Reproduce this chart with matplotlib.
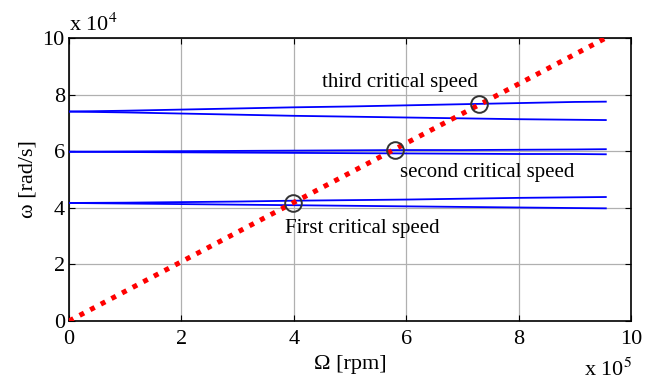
import numpy as np
import matplotlib
matplotlib.use("Agg")
import matplotlib.pyplot as plt

plt.rcParams['font.family'] = ['Liberation Serif', 'DejaVu Serif']
plt.rcParams['mathtext.fontset'] = 'stix'

# speed (x 1e5 rpm)
speed = [0.0, 1.0, 2.0, 3.0, 4.0, 5.0, 6.0, 7.0, 8.0, 9.0, 9.55]
# natural frequencies (x 1e4 rad/s)
mode1_fw = [4.17, 4.18, 4.20, 4.22, 4.25, 4.27, 4.29, 4.32, 4.35, 4.37, 4.38]
mode1_bw = [4.17, 4.15, 4.13, 4.11, 4.09, 4.07, 4.05, 4.03, 4.01, 3.99, 3.98]
mode2_fw = [5.98, 5.99, 6.00, 6.01, 6.02, 6.03, 6.04, 6.04, 6.05, 6.06, 6.07]
mode2_bw = [5.98, 5.97, 5.96, 5.95, 5.94, 5.93, 5.92, 5.91, 5.90, 5.90, 5.89]
mode3_fw = [7.40, 7.43, 7.47, 7.51, 7.55, 7.58, 7.62, 7.66, 7.70, 7.74, 7.75]
mode3_bw = [7.40, 7.37, 7.33, 7.29, 7.25, 7.22, 7.19, 7.16, 7.13, 7.11, 7.10]
# critical speeds
crit_x = [3.98, 5.80, 7.30]
crit_y = [4.18, 6.05, 7.65]
labels = ["First critical speed", "second critical speed", "third critical speed"]

fig = plt.figure(figsize=(6.54, 3.83), dpi=100)
ax = fig.add_axes([0.1055, 0.162, 0.8595, 0.7388])

for s in [mode1_fw, mode1_bw, mode2_fw, mode2_bw, mode3_fw, mode3_bw]:
    ax.plot(speed, s, color='#0000ff', lw=1.3, zorder=3)

xs = np.array([0.0, 10.0])
ax.plot(xs, xs * 2 * np.pi / 60 * 10, color='red', lw=3.6, dashes=(1, 1.4),
        solid_capstyle='butt', dash_capstyle='butt', zorder=4)

ax.plot(crit_x, crit_y, 'o', mfc='none', mec='#333333', ms=12, mew=1.4, zorder=5)

ax.text(3.84, 3.25, labels[0], fontsize=15, va='center', ha='left')
ax.text(5.89, 5.26, labels[1], fontsize=15, va='center', ha='left')
ax.text(4.50, 8.41, labels[2], fontsize=15, va='center', ha='left')

ax.set_xlim(0, 10)
ax.set_ylim(0, 10)
ax.set_xticks(np.arange(0, 11, 2))
ax.set_yticks(np.arange(0, 11, 2))
ax.grid(True, color='#b0b0b0', lw=0.9)
ax.tick_params(direction='in', top=True, right=True, labelsize=16, length=4, pad=3)
ax.tick_params(axis='x', pad=6.5)
for sp in ax.spines.values():
    sp.set_linewidth(1.2)
ax.set_xlabel('Ω [rpm]', fontsize=16, labelpad=4)
ax.set_ylabel('ω [rad/s]', fontsize=16, labelpad=4)
fig.text(0.105, 0.905, r'x 10$^4$', fontsize=16, ha='left', va='bottom')
fig.text(632 / 654, 0.004, r'x 10$^5$', fontsize=16, ha='right', va='bottom')

fig.savefig('out.png', dpi=100)
